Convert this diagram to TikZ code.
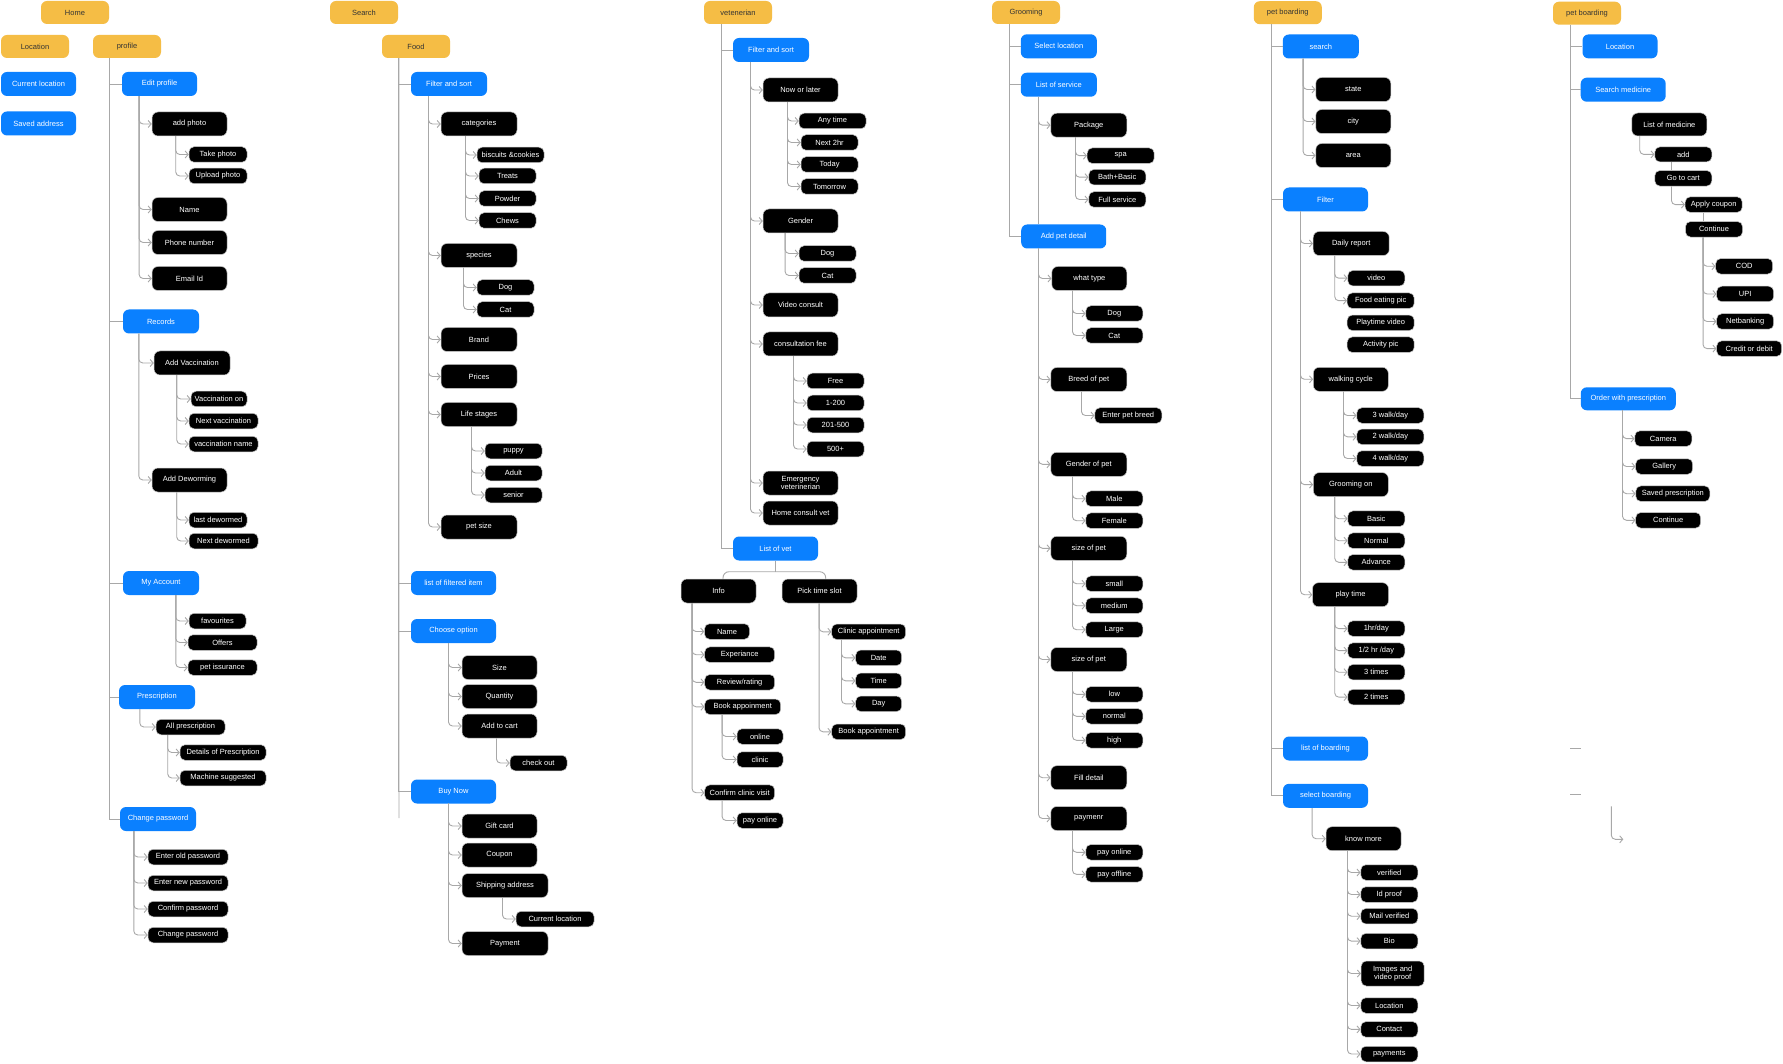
\documentclass[tikz,border=0pt]{standalone}
\usepackage{fontspec}
\setmainfont{Liberation Sans}
\usetikzlibrary{arrows.meta}
\definecolor{yel}{HTML}{F5BD45}
\definecolor{blu}{HTML}{0A80FF}
\definecolor{lgr}{HTML}{A8A8A8}
\definecolor{ytxt}{HTML}{333333}
\newcommand{\brs}[3]{\foreach \kid in {#3}{\draw[br] ([xshift=#2pt]#1.south west) |- (\kid.west);}}
\newcommand{\tks}[3]{\foreach \kid in {#3}{\draw[tk] ([xshift=#2pt]#1.south west) |- (\kid.west);}}
\begin{document}
\begin{tikzpicture}[x=1pt,y=-1pt,
 every node/.style={font=\fontsize{7.5}{8.5}\selectfont, inner sep=0pt, align=center},
 ybox/.style={fill=yel, text=ytxt, minimum width=68pt, minimum height=23pt, rounded corners=6pt},
 bbox/.style={fill=blu, text=white, minimum width=76pt, minimum height=24pt, rounded corners=6pt},
 kbox/.style={fill=black, draw=black!22, line width=0.5pt, text=white, minimum width=75pt, minimum height=24pt, rounded corners=6pt},
 sbox/.style={fill=black, draw=black!22, line width=0.5pt, text=white, minimum width=57pt, minimum height=15.5pt, rounded corners=5pt},
 br/.style={draw=lgr, line width=0.9pt, rounded corners=4pt, -{Straight Barb[length=3pt,width=7pt]}},
 tk/.style={draw=lgr, line width=0.9pt},
]
\fill[white] (0,0) rectangle (1783,1064);
\useasboundingbox (0,0) rectangle (1783,1064);

% ---------------- Column 1: Home ----------------
\node[ybox] (home) at (75,12.5) {Home};
\node[ybox] (loc1) at (35,46.5) {Location};
\node[ybox] (prof) at (127,46.5) {profile};
\node[bbox,minimum width=75pt] (curloc) at (38.5,84) {Current location};
\node[bbox,minimum width=75pt] (saved) at (38.5,123.5) {Saved address};
\node[bbox,minimum width=75pt] (ep) at (159.5,84) {Edit profile};
\node[kbox] (ap) at (189.5,124) {add photo};
\node[sbox,minimum width=58pt] (tp) at (218,154.5) {Take photo};
\node[sbox,minimum width=58pt] (up) at (218,176) {Upload photo};
\node[kbox] (nm) at (189.5,209.5) {Name};
\node[kbox] (ph) at (189.5,242.5) {Phone number};
\node[kbox] (em) at (189.5,278.5) {Email Id};
\node[bbox] (rec) at (161,321.5) {Records};
\node[kbox,minimum width=76pt] (av) at (192,363) {Add Vaccination};
\node[sbox,minimum width=56pt] (von) at (219,399) {Vaccination on};
\node[sbox,minimum width=69pt] (nv) at (223.5,421) {Next vaccination};
\node[sbox,minimum width=69pt] (vn) at (223.5,444) {vaccination name};
\node[kbox] (ad) at (189.5,480) {Add Deworming};
\node[sbox,minimum width=58pt] (ld) at (218,520) {last dewormed};
\node[sbox,minimum width=69pt] (nd) at (223.5,541) {Next dewormed};
\node[bbox] (ma) at (161,583) {My Account};
\node[sbox] (fav) at (217.5,621) {favourites};
\node[sbox,minimum width=69pt] (off) at (222.5,642.5) {Offers};
\node[sbox,minimum width=69pt] (pi) at (222.5,667.5) {pet issurance};
\node[bbox] (pr) at (157,697) {Prescription};
\node[sbox,minimum width=69pt] (allp) at (190.5,727) {All prescription};
\node[sbox,minimum width=86pt] (dp) at (223,752.5) {Details of Prescription};
\node[sbox,minimum width=86pt] (ms) at (223,778) {Machine suggested};
\node[bbox] (cpw) at (158,819) {Change password};
\node[sbox,minimum width=80pt] (eop) at (188,857) {Enter old password};
\node[sbox,minimum width=80pt] (enp) at (188,883) {Enter new password};
\node[sbox,minimum width=80pt] (cfp) at (188,909) {Confirm password};
\node[sbox,minimum width=80pt] (chp) at (188,935) {Change password};

\tks{prof}{16.3}{ep,rec,ma,pr,cpw}
\brs{ep}{17.3}{ap,nm,ph,em}
\brs{ap}{24}{tp,up}
\brs{rec}{16}{av,ad}
\brs{av}{23}{von,nv,vn}
\brs{ad}{25}{ld,nd}
\brs{ma}{53}{fav,off,pi}
\brs{pr}{21}{allp}
\brs{allp}{12}{dp,ms}
\brs{cpw}{14}{eop,enp,cfp,chp}

% ---------------- Column 2: Search ----------------
\node[ybox] (search) at (364,12.5) {Search};
\node[ybox] (food) at (416,46.5) {Food};
\node[bbox] (fs2) at (449,84) {Filter and sort};
\node[kbox,minimum width=76pt] (cats) at (479,124) {categories};
\node[sbox,minimum width=67pt] (bis) at (510.5,155) {biscuits \&cookies};
\node[sbox] (tre) at (507.5,176) {Treats};
\node[sbox] (pow) at (507.5,198.5) {Powder};
\node[sbox] (che) at (507.5,220.5) {Chews};
\node[kbox,minimum width=76pt] (spe) at (479,255.5) {species};
\node[sbox] (dog2) at (505.5,287.5) {Dog};
\node[sbox] (cat2) at (505.5,309.5) {Cat};
\node[kbox,minimum width=76pt] (bra) at (479,339.5) {Brand};
\node[kbox,minimum width=76pt] (pri) at (479,376.5) {Prices};
\node[kbox,minimum width=76pt] (life) at (479,414.5) {Life stages};
\node[sbox] (pup) at (513.5,451) {puppy};
\node[sbox] (adu) at (513.5,473) {Adult};
\node[sbox] (sen) at (513.5,495) {senior};
\node[kbox,minimum width=76pt] (psz) at (479,527) {pet size};
\node[bbox,minimum width=85pt] (lfi) at (453.5,583) {list of filtered item};
\node[bbox,minimum width=85pt] (cho) at (453.5,631) {Choose option};
\node[kbox] (siz) at (499.5,667.5) {Size};
\node[kbox] (qty) at (499.5,696.5) {Quantity};
\node[kbox] (atc) at (499.5,726) {Add to cart};
\node[sbox] (cko) at (538.5,763) {check out};
\node[bbox,minimum width=85pt] (buy) at (453.5,791.5) {Buy Now};
\node[kbox] (gif) at (499.5,826) {Gift card};
\node[kbox] (cou) at (499.5,855) {Coupon};
\node[kbox,minimum width=86pt] (shi) at (505,885.5) {Shipping address};
\node[sbox,minimum width=78pt] (cul) at (555,919) {Current location};
\node[kbox,minimum width=86pt] (pay2) at (505,943.5) {Payment};
\coordinate (foodend) at (399,818);

\tks{food}{17}{fs2,lfi,cho,buy}
\draw[tk] ([xshift=17pt]food.south west) -- (foodend);
\brs{fs2}{17.7}{cats,spe,bra,pri,life,psz}
\brs{cats}{24.7}{bis,tre,pow,che}
\brs{spe}{22.7}{dog2,cat2}
\brs{life}{30.7}{pup,adu,sen}
\brs{cho}{37.7}{siz,qty,atc}
\brs{atc}{34.7}{cko}
\brs{buy}{37.7}{gif,cou,shi,pay2}
\brs{shi}{40.7}{cul}

% ---------------- Column 3: vet ----------------
\node[ybox] (vet) at (738,12.5) {vetenerian};
\node[bbox] (fs3) at (771,50) {Filter and sort};
\node[kbox] (nol) at (800.5,90) {Now or later};
\node[sbox,minimum width=67pt] (any) at (832.5,121) {Any time};
\node[sbox] (n2) at (829.5,142.5) {Next 2hr};
\node[sbox] (tod) at (829.5,164.5) {Today};
\node[sbox] (tom) at (829.5,186.5) {Tomorrow};
\node[kbox] (gen3) at (800.5,221) {Gender};
\node[sbox] (dog3) at (827.5,253.5) {Dog};
\node[sbox] (cat3) at (827.5,275.5) {Cat};
\node[kbox] (vc) at (800.5,305) {Video consult};
\node[kbox] (fee) at (800.5,344) {consultation fee};
\node[sbox] (free) at (835.5,381) {Free};
\node[sbox] (f1) at (835.5,403) {1-200};
\node[sbox] (f2) at (835.5,425) {201-500};
\node[sbox] (f3) at (835.5,449) {500+};
\node[kbox] (emv) at (800.5,483) {Emergency\\veterinerian};
\node[kbox] (hcv) at (800.5,513) {Home consult vet};
\node[bbox,minimum width=85pt] (lov) at (775.5,548.5) {List of vet};
\node[kbox] (info) at (718.5,591) {Info};
\node[kbox] (pts) at (819.5,591) {Pick time slot};
\node[sbox,minimum width=45pt] (nm3) at (727,631.5) {Name};
\node[sbox,minimum width=70pt] (exp) at (739.7,654.7) {Experiance};
\node[sbox,minimum width=70pt] (rev) at (739.7,682.3) {Review/rating};
\node[sbox,minimum width=76pt] (bk) at (742.7,706.8) {Book appoinment};
\node[sbox,minimum width=46pt] (onl) at (760,736.5) {online};
\node[sbox,minimum width=46pt] (cli) at (760,759.5) {clinic};
\node[sbox,minimum width=70pt] (ccv) at (739.7,792.7) {Confirm clinic visit};
\node[sbox,minimum width=46pt] (po3) at (760,820.5) {pay online};
\node[sbox,minimum width=74pt] (ca) at (868.7,631.8) {Clinic appointment};
\node[sbox,minimum width=46pt] (dat) at (878.7,657.8) {Date};
\node[sbox,minimum width=46pt] (tim) at (878.7,680.8) {Time};
\node[sbox,minimum width=46pt] (day) at (878.7,703.8) {Day};
\node[sbox,minimum width=74pt] (ba) at (868.7,731.8) {Book appointment};
\coordinate (lovj) at (775.5,571.7);

\tks{vet}{17.3}{fs3,lov}
\brs{fs3}{17.7}{nol,gen3,vc,fee,emv,hcv}
\brs{nol}{24.7}{any,n2,tod,tom}
\brs{gen3}{22.3}{dog3,cat3}
\brs{fee}{30.7}{free,f1,f2,f3}
\draw[tk] (lov.south) -- (lovj);
\draw[tk,rounded corners=6pt] ([xshift=4.5pt]info.north) |- (lovj) -| ([xshift=6.2pt]pts.north);
\brs{info}{11.3}{nm3,exp,rev,bk,ccv}
\brs{bk}{17.6}{onl,cli}
\brs{ccv}{17.6}{po3}
\brs{pts}{37.3}{ca,ba}
\brs{ca}{10}{dat,tim,day}

% ---------------- Column 4: Grooming ----------------
\node[ybox] (groom) at (1026,12.5) {Grooming};
\node[bbox] (sl) at (1058.8,46.3) {Select location};
\node[bbox] (los) at (1058.8,84.7) {List of service};
\node[kbox,minimum width=76pt] (pkg) at (1088.8,125.2) {Package};
\node[sbox,minimum width=67pt] (spa) at (1120.7,155.7) {spa};
\node[sbox] (bb) at (1117.3,177.2) {Bath+Basic};
\node[sbox] (fsv) at (1117.3,199.5) {Full service};
\node[bbox,minimum width=85pt] (apd) at (1063.7,236.5) {Add pet detail};
\node[kbox] (wt) at (1089.3,278.5) {what type};
\node[sbox] (dog4) at (1114.3,313.5) {Dog};
\node[sbox] (cat4) at (1114.3,335.5) {Cat};
\node[kbox,minimum width=76pt] (brd) at (1088.8,379.5) {Breed of pet};
\node[sbox,minimum width=67pt] (epb) at (1128.3,415.5) {Enter pet breed};
\node[kbox,minimum width=76pt] (gop) at (1088.8,464.3) {Gender of pet};
\node[sbox] (male) at (1114.3,498.7) {Male};
\node[sbox] (fem) at (1114.3,520.7) {Female};
\node[kbox,minimum width=76pt] (sop) at (1088.8,548.3) {size of pet};
\node[sbox] (sma) at (1114.3,583.7) {small};
\node[sbox] (med) at (1114.3,605.7) {medium};
\node[sbox] (lar) at (1114.3,629.7) {Large};
\node[kbox,minimum width=76pt] (sopb) at (1088.8,659.5) {size of pet};
\node[sbox] (low) at (1114.3,694.3) {low};
\node[sbox] (nor) at (1114.3,716.3) {normal};
\node[sbox] (hig) at (1114.3,740.3) {high};
\node[kbox,minimum width=76pt] (fd) at (1088.8,777.7) {Fill detail};
\node[kbox,minimum width=76pt] (pmr) at (1088.8,818.5) {paymenr};
\node[sbox] (pon) at (1114.3,852.3) {pay online};
\node[sbox] (pof) at (1114.3,874.3) {pay offline};

\tks{groom}{17.7}{sl,los,apd}
\brs{los}{17.9}{pkg}
\draw[tk] ([xshift=17.9pt]los.south west) -- ([xshift=17.5pt]apd.north west);
\brs{pkg}{24.9}{spa,bb,fsv}
\brs{apd}{17.5}{wt,brd,gop,sop,sopb,fd,pmr}
\brs{wt}{20.9}{dog4,cat4}
\brs{brd}{30.9}{epb}
\brs{gop}{21.9}{male,fem}
\brs{sop}{21.9}{sma,med,lar}
\brs{sopb}{21.9}{low,nor,hig}
\brs{pmr}{21.9}{pon,pof}

% ---------------- Column 5: pet boarding ----------------
\node[ybox] (pb) at (1287.8,12.7) {pet boarding};
\node[bbox] (srch) at (1320.8,46.5) {search};
\node[kbox] (sta) at (1353.3,89.5) {state};
\node[kbox] (cit) at (1353.3,121.5) {city};
\node[kbox] (are) at (1353.3,155.5) {area};
\node[bbox,minimum width=85pt] (fil) at (1325.5,199.5) {Filter};
\node[kbox,minimum width=76pt] (dr) at (1351.2,243.5) {Daily report};
\node[sbox] (vid) at (1376.3,278.2) {video};
\node[sbox,minimum width=67pt] (fep) at (1380.7,300.7) {Food eating pic};
\node[sbox,minimum width=67pt] (ptv) at (1380.7,322.8) {Playtime video};
\node[sbox,minimum width=67pt] (act) at (1380.7,344.7) {Activity pic};
\node[kbox] (wc) at (1350.8,379.3) {walking cycle};
\node[sbox,minimum width=67pt] (w3) at (1390.3,415.5) {3 walk/day};
\node[sbox,minimum width=67pt] (w2) at (1390.3,436.8) {2 walk/day};
\node[sbox,minimum width=67pt] (w4) at (1390.3,458.5) {4 walk/day};
\node[kbox] (gro) at (1350.8,484.6) {Grooming on};
\node[sbox] (bas) at (1376.3,518.7) {Basic};
\node[sbox] (nrm) at (1376.3,540.7) {Normal};
\node[sbox] (adv) at (1376.3,562.3) {Advance};
\node[kbox,minimum width=76pt] (plt) at (1350.5,594.7) {play time};
\node[sbox] (h1) at (1376.3,628.6) {1hr/day};
\node[sbox] (h2) at (1376.3,650.6) {1/2 hr /day};
\node[sbox] (t3) at (1376.3,672.2) {3 times};
\node[sbox] (t2) at (1376.3,697.1) {2 times};
\node[bbox,minimum width=85pt] (lob) at (1325.5,748.5) {list of boarding};
\node[bbox,minimum width=85pt] (sbd) at (1325.5,795.8) {select boarding};
\node[kbox] (km) at (1363.5,838.7) {know more};
\node[sbox] (ver) at (1389.3,872.5) {verified};
\node[sbox] (idp) at (1389.3,894.5) {Id proof};
\node[sbox] (mv) at (1389.3,916.2) {Mail verified};
\node[sbox] (bio) at (1389.3,941.1) {Bio};
\node[sbox,minimum width=63pt,minimum height=25pt] (ivp) at (1392.7,973.5) {Images and\\video proof};
\node[sbox] (lc5) at (1389.3,1005.5) {Location};
\node[sbox] (con) at (1389.3,1029.4) {Contact};
\node[sbox] (pmt) at (1389.3,1054) {payments};

\tks{pb}{17.9}{srch,fil,lob,sbd}
\brs{srch}{20.5}{sta,cit,are}
\brs{fil}{17.7}{dr,wc,gro,plt}
\brs{dr}{21.8}{vid,fep}
\brs{wc}{30.4}{w3,w2,w4}
\brs{gro}{21.7}{bas,nrm,adv}
\brs{plt}{22.5}{h1,h2,t3,t2}
\brs{sbd}{29.3}{km}
\brs{km}{21.7}{ver,idp,mv,bio,ivp,lc5,con,pmt}

% ---------------- Column 6: pet boarding (medicine) ----------------
\node[ybox] (pbb) at (1587,13.2) {pet boarding};
\node[bbox,minimum width=75pt] (loc6) at (1620,46.4) {Location};
\node[bbox,minimum width=85pt] (smed) at (1623.2,89.7) {Search medicine};
\node[kbox,minimum height=23pt] (lom) at (1669.3,124.5) {List of medicine};
\node[sbox,minimum height=15pt] (add) at (1683.3,154.4) {add};
\node[sbox] (gtc) at (1683.3,178.3) {Go to cart};
\node[sbox] (apc) at (1713.7,204.6) {Apply coupon};
\node[sbox] (cnt) at (1714,229.3) {Continue};
\node[sbox] (cod) at (1744.2,266.3) {COD};
\node[sbox] (upi) at (1745.2,294) {UPI};
\node[sbox] (nb) at (1745.2,321.5) {Netbanking};
\node[sbox,minimum width=65pt] (cd) at (1749.2,348.6) {Credit or debit};
\node[bbox,minimum width=95pt,minimum height=23pt] (owp) at (1628.3,398.8) {Order with prescription};
\node[sbox] (cam) at (1663.3,438.6) {Camera};
\node[sbox] (gal) at (1664.2,466.5) {Gallery};
\node[sbox,minimum width=74pt] (svp) at (1672.8,493.7) {Saved prescription};
\node[sbox,minimum width=65pt] (cntb) at (1668.2,520.3) {Continue};
\coordinate (s1a) at (1570.3,748.8);
\coordinate (s1b) at (1580.7,748.8);
\coordinate (s2a) at (1570.3,794.8);
\coordinate (s2b) at (1580.7,794.8);
\coordinate (s3a) at (1611.3,806.4);
\coordinate (s3b) at (1623.3,839.3);

\tks{pbb}{17.3}{loc6,smed,owp}
\brs{lom}{8.2}{add}
\draw[tk] ([xshift=16.5pt]add.south west) -- ([xshift=16.5pt]gtc.north west);
\brs{gtc}{16.9}{apc}
\draw[tk] ([xshift=18.1pt]apc.south west) -- ([xshift=17.8pt]cnt.north west);
\brs{cnt}{17.8}{cod,upi,nb,cd}
\brs{owp}{41.9}{cam,gal,svp,cntb}
\draw[tk] (s1a) -- (s1b);
\draw[tk] (s2a) -- (s2b);
\draw[br] (s3a) |- (s3b);
\end{tikzpicture}
\end{document}
